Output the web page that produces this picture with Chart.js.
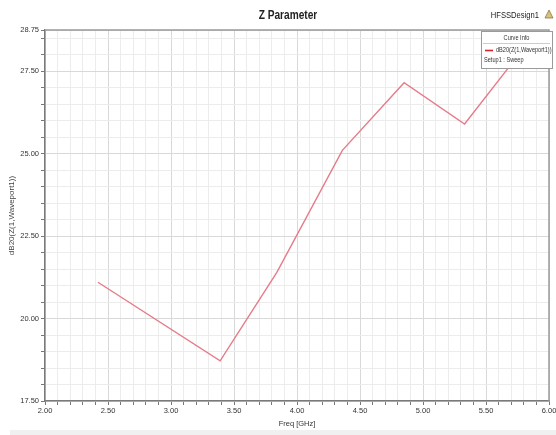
<!DOCTYPE html>
<html>
<head>
<meta charset="utf-8">
<script src="https://cdn.jsdelivr.net/npm/chart.js@4.4.1/dist/chart.umd.min.js"></script>
<style>
  html, body { margin: 0; padding: 0; background: #ffffff; }
  #wrap { position: relative; width: 556px; height: 435px; }
</style>
</head>
<body>
<div id="wrap"><canvas id="c" width="556" height="435"></canvas></div>
<script>
// Sweep results: frequency (GHz) and dB20 of Z(1,Waveport1)
const freqGHz = [2.42, 3.39, 3.84, 4.36, 4.85, 5.33, 5.82];
const zDb = [21.10, 18.72, 21.40, 25.10, 27.15, 25.90, 28.30];

const seriesName = 'dB20(Z(1,Waveport1))';
const setupName = 'Setup1 : Sweep';
const titleText = 'Z Parameter';
const designName = 'HFSSDesign1';
const xTitle = 'Freq [GHz]';

const xMin = 2.0, xMax = 6.0, xMinor = 0.1, xMajor = 0.5;
const yMin = 17.5, yMax = 28.75, yMinor = 0.5, yMajor = 2.5;

const FONT = "'Liberation Sans', Arial, sans-serif";
const lineColor = '#e67c8a';

function near(v, step) {
  const r = v / step;
  return Math.abs(r - Math.round(r)) < 1e-6;
}

// evenly spaced ticks from min, never past max; max itself is always included
function buildTicks(min, max, step) {
  const out = [];
  const n = Math.floor((max - min) / step + 1e-6);
  for (let i = 0; i <= n; i++) out.push({ value: +(min + i * step).toFixed(4) });
  if (out[out.length - 1].value < max - 1e-6) out.push({ value: max });
  return out;
}

const isMajorY = v => near(v, yMajor) || Math.abs(v - yMax) < 1e-6;

// narrow text: squeeze horizontally around the anchor point
function narrowText(ctx, text, x, y, squeeze) {
  ctx.save();
  ctx.translate(x, y);
  ctx.scale(squeeze, 1);
  ctx.fillText(text, 0, 0);
  ctx.restore();
}

// Title, design name, and curve-info box drawn over the plot
const decorations = {
  id: 'decorations',
  afterDraw(chart) {
    const ctx = chart.ctx;
    ctx.save();
    ctx.fillStyle = '#222';
    ctx.textBaseline = 'middle';
    ctx.font = 'bold 13px ' + FONT;
    ctx.textAlign = 'center';
    narrowText(ctx, titleText, 288, 15, 0.78);
    ctx.font = '9.5px ' + FONT;
    ctx.textAlign = 'right';
    narrowText(ctx, designName, 539, 15, 0.8);
    // small warning triangle next to the design name
    ctx.beginPath();
    ctx.moveTo(549, 10); ctx.lineTo(553, 18); ctx.lineTo(545, 18); ctx.closePath();
    ctx.fillStyle = '#d9c27a';
    ctx.fill();
    ctx.strokeStyle = '#7a6a3a';
    ctx.lineWidth = 0.7;
    ctx.stroke();

    // curve info box
    const bx = 481, by = 31, bw = 71, bh = 37;
    ctx.fillStyle = '#ffffff';
    ctx.fillRect(bx, by, bw, bh);
    ctx.strokeStyle = '#9a9a9a';
    ctx.lineWidth = 1;
    ctx.strokeRect(bx + 0.5, by + 0.5, bw, bh);
    ctx.fillStyle = '#333';
    ctx.font = '7px ' + FONT;
    ctx.textAlign = 'center';
    narrowText(ctx, 'Curve Info', bx + bw / 2, by + 7, 0.8);
    ctx.beginPath();
    ctx.moveTo(bx + 2, by + 12.5); ctx.lineTo(bx + bw - 2, by + 12.5);
    ctx.strokeStyle = '#cccccc';
    ctx.stroke();
    const ds = chart.data.datasets[0];
    ctx.beginPath();
    ctx.moveTo(bx + 4, by + 19.5); ctx.lineTo(bx + 12, by + 19.5);
    ctx.strokeStyle = '#d8232f';
    ctx.lineWidth = 1.6;
    ctx.stroke();
    ctx.textAlign = 'left';
    ctx.fillStyle = '#333';
    narrowText(ctx, ds.label, bx + 15, by + 19.5, 0.8);
    narrowText(ctx, setupName, bx + 3, by + 29, 0.8);
    ctx.restore();
  }
};

const tickFont = { family: FONT, size: 7.5 };

new Chart(document.getElementById('c'), {
  type: 'line',
  data: {
    datasets: [{
      label: seriesName,
      data: freqGHz.map((f, i) => ({ x: f, y: zDb[i] })),
      borderColor: lineColor,
      borderWidth: 1.4,
      pointRadius: 0,
      tension: 0,
      fill: false
    }]
  },
  options: {
    responsive: false,
    animation: false,
    layout: { padding: { left: 0, right: 7, top: 30, bottom: 7 } },
    plugins: {
      legend: { display: false },
      title: { display: false },
      tooltip: { enabled: false }
    },
    scales: {
      x: {
        type: 'linear',
        min: xMin,
        max: xMax,
        afterBuildTicks(scale) { scale.ticks = buildTicks(xMin, xMax, xMinor); },
        afterFit(scale) { scale.height = 27; scale.paddingLeft = 0; scale.paddingRight = 0; },
        ticks: {
          autoSkip: false,
          maxRotation: 0,
          padding: 1,
          color: '#333',
          font: tickFont,
          callback(v) { return near(v, xMajor) ? Number(v).toFixed(2) : ''; }
        },
        grid: {
          color(c) { return near(c.tick.value, xMajor) ? '#d9d9d9' : '#ececec'; },
          tickColor: '#777',
          tickLength: 4,
          lineWidth: 1
        },
        border: { display: true, color: '#7a7a7a', width: 1.5 },
        title: {
          display: true,
          text: xTitle,
          color: '#333',
          font: tickFont,
          padding: { top: 0, bottom: 0 }
        }
      },
      y: {
        type: 'linear',
        min: yMin,
        max: yMax,
        afterBuildTicks(scale) { scale.ticks = buildTicks(yMin, yMax, yMinor); },
        afterFit(scale) { scale.width = 45; },
        ticks: {
          autoSkip: false,
          padding: 2,
          color: '#333',
          font: tickFont,
          callback(v) { return isMajorY(v) ? Number(v).toFixed(2) : ''; }
        },
        grid: {
          color(c) { return isMajorY(c.tick.value) ? '#d9d9d9' : '#ececec'; },
          tickColor: '#777',
          tickLength: 4,
          lineWidth: 1
        },
        border: { display: true, color: '#7a7a7a', width: 1.5 },
        title: {
          display: true,
          text: seriesName,
          color: '#444',
          font: { family: FONT, size: 8 },
          padding: { top: 7, bottom: 0 }
        }
      }
    }
  },
  plugins: [{
    id: 'frame',
    beforeDraw(chart) {
      const { ctx } = chart;
      ctx.save();
      ctx.fillStyle = '#ffffff';
      ctx.fillRect(0, 0, chart.width, chart.height);
      ctx.fillStyle = '#f0f0f0';
      ctx.fillRect(10, 430, 546, 5);
      ctx.restore();
    },
    afterDatasetsDraw(chart) {
      const { ctx, chartArea: a } = chart;
      ctx.save();
      ctx.strokeStyle = '#9a9a9a';
      ctx.lineWidth = 1.5;
      ctx.beginPath();
      ctx.moveTo(a.left, a.top); ctx.lineTo(a.right, a.top); ctx.lineTo(a.right, a.bottom);
      ctx.stroke();
      ctx.restore();
    }
  }, decorations]
});
</script>
</body>
</html>
